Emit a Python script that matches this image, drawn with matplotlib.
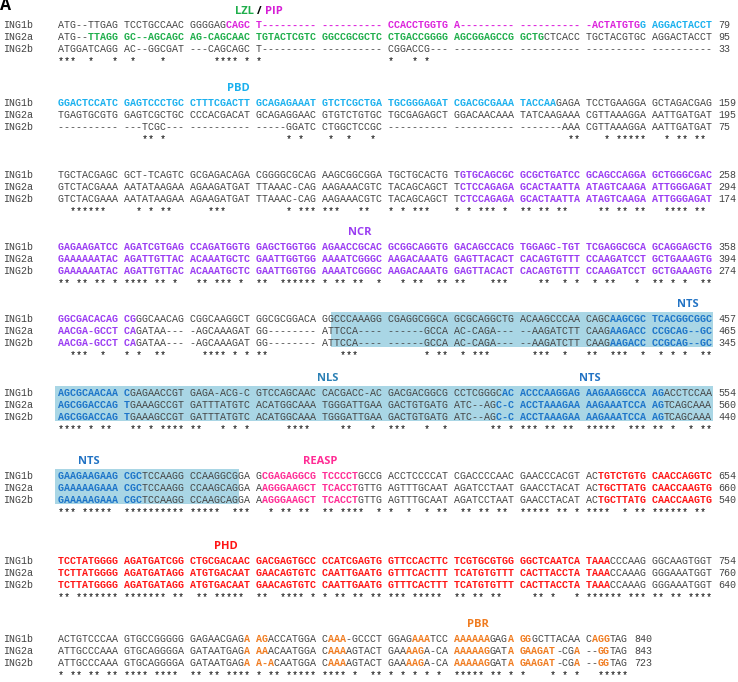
import matplotlib
matplotlib.use("Agg")
import matplotlib.pyplot as plt
from matplotlib.patches import Rectangle

# ---------------------------------------------------------
# Alignment data (10-nt groups, as printed)
# ---------------------------------------------------------

names = ["ING1b", "ING2a", "ING2b"]

ing1b = [
    "ATG--TTGAG TCCTGCCAAC GGGGAGCAGC T--------- ---------- CCACCTGGTG A--------- ---------- -ACTATGTGG AGGACTACCT",
    "GGACTCCATC GAGTCCCTGC CTTTCGACTT GCAGAGAAAT GTCTCGCTGA TGCGGGAGAT CGACGCGAAA TACCAAGAGA TCCTGAAGGA GCTAGACGAG",
    "TGCTACGAGC GCT-TCAGTC GCGAGACAGA CGGGGCGCAG AAGCGGCGGA TGCTGCACTG TGTGCAGCGC GCGCTGATCC GCAGCCAGGA GCTGGGCGAC",
    "GAGAAGATCC AGATCGTGAG CCAGATGGTG GAGCTGGTGG AGAACCGCAC GCGGCAGGTG GACAGCCACG TGGAGC-TGT TCGAGGCGCA GCAGGAGCTG",
    "GGCGACACAG CGGGCAACAG CGGCAAGGCT GGCGCGGACA GGCCCAAAGG CGAGGCGGCA GCGCAGGCTG ACAAGCCCAA CAGCAAGCGC TCACGGCGGC",
    "AGCGCAACAA CGAGAACCGT GAGA-ACG-C GTCCAGCAAC CACGACC-AC GACGACGGCG CCTCGGGCAC ACCCAAGGAG AAGAAGGCCA AGACCTCCAA",
    "GAAGAAGAAG CGCTCCAAGG CCAAGGCGGA GCGAGAGGCG TCCCCTGCCG ACCTCCCCAT CGACCCCAAC GAACCCACGT ACTGTCTGTG CAACCAGGTC",
    "TCCTATGGGG AGATGATCGG CTGCGACAAC GACGAGTGCC CCATCGAGTG GTTCCACTTC TCGTGCGTGG GGCTCAATCA TAAACCCAAG GGCAAGTGGT",
    "ACTGTCCCAA GTGCCGGGGG GAGAACGAGA AGACCATGGA CAAA-GCCCT GGAGAAATCC AAAAAAGAGA GGGCTTACAA CAGGTAG",
]

ing2a = [
    "ATG--TTAGG GC--AGCAGC AG-CAGCAAC TGTACTCGTC GGCCGCGCTC CTGACCGGGG AGCGGAGCCG GCTGCTCACC TGCTACGTGC AGGACTACCT",
    "TGAGTGCGTG GAGTCGCTGC CCCACGACAT GCAGAGGAAC GTGTCTGTGC TGCGAGAGCT GGACAACAAA TATCAAGAAA CGTTAAAGGA AATTGATGAT",
    "GTCTACGAAA AATATAAGAA AGAAGATGAT TTAAAC-CAG AAGAAACGTC TACAGCAGCT TCTCCAGAGA GCACTAATTA ATAGTCAAGA ATTGGGAGAT",
    "GAAAAAATAC AGATTGTTAC ACAAATGCTC GAATTGGTGG AAAATCGGGC AAGACAAATG GAGTTACACT CACAGTGTTT CCAAGATCCT GCTGAAAGTG",
    "AACGA-GCCT CAGATAA--- -AGCAAAGAT GG-------- ATTCCA---- ------GCCA AC-CAGA--- --AAGATCTT CAAGAAGACC CCGCAG--GC",
    "AGCGGACCAG TGAAAGCCGT GATTTATGTC ACATGGCAAA TGGGATTGAA GACTGTGATG ATC--AGC-C ACCTAAAGAA AAGAAATCCA AGTCAGCAAA",
    "GAAAAAGAAA CGCTCCAAGG CCAAGCAGGA AAGGGAAGCT TCACCTGTTG AGTTTGCAAT AGATCCTAAT GAACCTACAT ACTGCTTATG CAACCAAGTG",
    "TCTTATGGGG AGATGATAGG ATGTGACAAT GAACAGTGTC CAATTGAATG GTTTCACTTT TCATGTGTTT CACTTACCTA TAAACCAAAG GGGAAATGGT",
    "ATTGCCCAAA GTGCAGGGGA GATAATGAGA AAACAATGGA CAAAAGTACT GAAAAGA-CA AAAAAGGATA GAAGAT-CGA --GGTAG",
]

ing2b = [
    "ATGGATCAGG AC--GGCGAT ---CAGCAGC T--------- ---------- CGGACCG--- ---------- ---------- ---------- ----------",
    "---------- ---TCGC--- ---------- -----GGATC CTGGCTCCGC ---------- ---------- -------AAA CGTTAAAGGA AATTGATGAT",
    "GTCTACGAAA AATATAAGAA AGAAGATGAT TTAAAC-CAG AAGAAACGTC TACAGCAGCT TCTCCAGAGA GCACTAATTA ATAGTCAAGA ATTGGGAGAT",
    "GAAAAAATAC AGATTGTTAC ACAAATGCTC GAATTGGTGG AAAATCGGGC AAGACAAATG GAGTTACACT CACAGTGTTT CCAAGATCCT GCTGAAAGTG",
    "AACGA-GCCT CAGATAA--- -AGCAAAGAT GG-------- ATTCCA---- ------GCCA AC-CAGA--- --AAGATCTT CAAGAAGACC CCGCAG--GC",
    "AGCGGACCAG TGAAAGCCGT GATTTATGTC ACATGGCAAA TGGGATTGAA GACTGTGATG ATC--AGC-C ACCTAAAGAA AAGAAATCCA AGTCAGCAAA",
    "GAAAAAGAAA CGCTCCAAGG CCAAGCAGGA AAGGGAAGCT TCACCTGTTG AGTTTGCAAT AGATCCTAAT GAACCTACAT ACTGCTTATG CAACCAAGTG",
    "TCTTATGGGG AGATGATAGG ATGTGACAAT GAACAGTGTC CAATTGAATG GTTTCACTTT TCATGTGTTT CACTTACCTA TAAACCAAAG GGGAAATGGT",
    "ATTGCCCAAA GTGCAGGGGA GATAATGAGA A-ACAATGGA CAAAAGTACT GAAAAGA-CA AAAAAGGATA GAAGAT-CGA --GGTAG",
]

ends_1b = [79, 159, 258, 358, 457, 554, 654, 754, 840]
ends_2a = [95, 195, 294, 394, 465, 560, 660, 760, 843]
ends_2b = [33, 75, 174, 274, 345, 440, 540, 640, 723]

# conservation line, one 10-column group at a time
star_groups = [
    ["***  *   *", " *    *   ", "    **** *", "*         ", "          ",
     "*   * *   "],
    ["          ", "   ** *   ", "          ", "     * *  ", " *  *   * ",
     "          ", "          ", "        **", "   * *****", "  * ** ** "],
    ["  ******  ", "  * * **  ", "   ***    ", "     * ***", "***   **  ",
     "* * ***   ", "* * *** * ", "** ** **  ", "  ** ** **", "  **** ** "],
    ["** ** ** *", "**** ** * ", " ** *** * ", "**  ******", "* ** **  *",
     "  * **  **", "**    *** ", "   **  * *", " * **   * ", "** * *  **"],
    ["  ***  *  ", "* *  **   ", "  **** * *", "**        ", "   ***    ",
     "      * **", " * ***    ", "  ***  *  ", "**  ***  *", " * * *  **"],
    ["**** * ** ", " ** * ****", "**   * * *", "     **** ", "   **   * ",
     "***   *  *", "      ** *", "*** ** ** ", "*****  ***", "** *  * **"],
    ["*** ***** ", "**********", "*****  ***", "  * ** ** ", "** ****  *",
     "*  *  * **", " ** ** ** ", "***** ** *", "****  * **", "****** ** "],
    ["** *******", "******* **", " ** ***** ", "**  **** *", "* ** ** **",
     "*** ***** ", "** ** **  ", "  ** *   *", "****** ***", "** ** ****"],
    ["* ** ** **", "**** **** ", "** ** ****", "* ** *****", "**** *  **",
     "* * * * * ", "***** ** *", "*    * * *", "  *****"],
]

# domain colouring: (block, row, first column, end column, domain)
spans = [
    (0, 0, 28, 97, "PIP"), (0, 0, 97, 109, "PBD"), (0, 1, 5, 81, "LZL"),
    (1, 0, 0, 83, "PBD"),
    (2, 0, 67, 109, "NCR"), (2, 1, 67, 109, "NCR"), (2, 2, 67, 109, "NCR"),
    (3, 0, 0, 109, "NCR"), (3, 1, 0, 109, "NCR"), (3, 2, 0, 109, "NCR"),
    (4, 0, 0, 13, "NCR"), (4, 1, 0, 13, "NCR"), (4, 2, 0, 13, "NCR"),
    (4, 0, 92, 109, "NTS"), (4, 1, 92, 109, "NTS"), (4, 2, 92, 109, "NTS"),
    (5, 0, 0, 12, "NTS"), (5, 1, 0, 12, "NTS"), (5, 2, 0, 12, "NTS"),
    (5, 0, 74, 101, "NTS"), (5, 1, 73, 101, "NTS"), (5, 2, 73, 101, "NTS"),
    (6, 0, 0, 14, "NTS"), (6, 1, 0, 14, "NTS"), (6, 2, 0, 14, "NTS"),
    (6, 0, 34, 50, "REASP"), (6, 1, 34, 50, "REASP"), (6, 2, 34, 50, "REASP"),
    (6, 0, 90, 109, "PHD"), (6, 1, 90, 109, "PHD"), (6, 2, 90, 109, "PHD"),
    (7, 0, 0, 92, "PHD"), (7, 1, 0, 92, "PHD"), (7, 2, 0, 92, "PHD"),
    (8, 0, 31, 35, "PBR"), (8, 0, 45, 48, "PBR"), (8, 0, 59, 62, "PBR"),
    (8, 0, 66, 72, "PBR"), (8, 0, 75, 76, "PBR"), (8, 0, 77, 79, "PBR"),
    (8, 0, 89, 92, "PBR"),
    (8, 1, 31, 35, "PBR"), (8, 1, 45, 48, "PBR"), (8, 1, 58, 61, "PBR"),
    (8, 1, 66, 72, "PBR"), (8, 1, 75, 76, "PBR"), (8, 1, 77, 83, "PBR"),
    (8, 1, 86, 87, "PBR"), (8, 1, 90, 92, "PBR"),
    (8, 2, 31, 36, "PBR"), (8, 2, 45, 48, "PBR"), (8, 2, 58, 61, "PBR"),
    (8, 2, 66, 72, "PBR"), (8, 2, 75, 76, "PBR"), (8, 2, 77, 83, "PBR"),
    (8, 2, 86, 87, "PBR"), (8, 2, 90, 92, "PBR"),
]

# shaded NTS box: (block, first column, end column)
shades = [(4, 46, 109), (5, 0, 109), (6, 0, 30)]

# domain names over the blocks: (block, centre column, name)
domain_labels = [
    (1, 30, "PBD"), (3, 50.3, "NCR"), (4, 105, "NTS"),
    (5, 45, "NLS"), (5, 88.7, "NTS"), (6, 5.2, "NTS"), (6, 43.7, "REASP"),
    (7, 28, "PHD"), (8, 70, "PBR"),
]

colors = {
    "LZL": "#1fae4b", "PIP": "#dc22dc", "PBD": "#1ab0ee", "NCR": "#9a3cf2",
    "NTS": "#1c74c9", "NLS": "#2b80b5", "REASP": "#ff2b94", "PHD": "#ff1414",
    "PBR": "#f07b1f",
}
label_colors = dict(colors, NTS="#2273c4", PIP="#d61fd6")
GRAY = "#444444"
SHADE = "#a9d6e5"

# ---------------------------------------------------------
# Layout (pixel coordinates)
# ---------------------------------------------------------

W, H = 738, 682
X0 = 58.0        # first alignment column
PITCH = 6.0      # monospace advance
ROW = 12.0
block_top = [25, 103, 175, 247, 319, 393, 476, 561, 639]

MONO = "Liberation Mono"
FS = 7.2
LAB = "Open Sans"

fig = plt.figure(figsize=(W / 100, H / 100), dpi=100)
ax = fig.add_axes([0, 0, 1, 1])
ax.set_xlim(0, W)
ax.set_ylim(H, 0)
ax.axis("off")

ax.text(0.5, 6.5, "A", fontsize=11.5, fontweight="bold", family=LAB,
        ha="left", va="center", color="black")

rows_all = [ing1b, ing2a, ing2b]
ends_all = [ends_1b, ends_2a, ends_2b]

for b in range(len(ing1b)):
    y1 = block_top[b]

    # NTS shading
    for sb, c0, c1 in shades:
        if sb == b:
            ax.add_patch(Rectangle((X0 + c0 * PITCH - 3, y1 - 7),
                                   (c1 - c0) * PITCH + 4, 2 * ROW + 11,
                                   facecolor=SHADE, edgecolor="none", zorder=0))

    for r in range(3):
        y = y1 + r * ROW
        seq = rows_all[r][b]
        ax.text(3, y + 3.4, names[r], family=MONO, fontsize=FS, color=GRAY,
                ha="left", va="baseline")

        col_key = [None] * len(seq)
        for sb, sr, c0, c1, key in spans:
            if sb == b and sr == r:
                for c in range(c0, min(c1, len(seq))):
                    col_key[c] = key

        # merge into runs of the same colour
        start = 0
        for c in range(1, len(seq) + 1):
            if c == len(seq) or col_key[c] != col_key[start]:
                key = col_key[start]
                ax.text(X0 + start * PITCH, y + 3.4, seq[start:c], family=MONO,
                        fontsize=FS, ha="left", va="baseline",
                        color=colors[key] if key else GRAY,
                        fontweight="bold" if key else "normal", zorder=2)
                start = c

        ax.text(X0 + (len(seq) + 1) * PITCH, y + 3.4, str(ends_all[r][b]),
                family=MONO, fontsize=FS, color=GRAY, ha="left", va="baseline")

    # keep the last conservation line inside the canvas
    ys = min(y1 + 40, H - 2.8)
    ax.text(X0, ys, " ".join(star_groups[b]).rstrip(), family=MONO,
            fontsize=FS, color="black", ha="left", va="baseline")

for b, c, name in domain_labels:
    ax.text(X0 + c * PITCH, block_top[b] - 14.5, name, family=LAB,
            fontweight="bold", fontsize=8, color=label_colors[name],
            ha="center", va="center")

# LZL / PIP header on the first block
yh = block_top[0] - 13
ax.text(254, yh, "LZL", family=LAB, fontweight="bold", fontsize=8,
        color=label_colors["LZL"], ha="right", va="center")
ax.text(259, yh, "/", family=LAB, fontweight="bold", fontsize=8,
        color="black", ha="center", va="center")
ax.text(265, yh, "PIP", family=LAB, fontweight="bold", fontsize=8,
        color=label_colors["PIP"], ha="left", va="center")

fig.savefig("out.png", dpi=100, facecolor="white")
